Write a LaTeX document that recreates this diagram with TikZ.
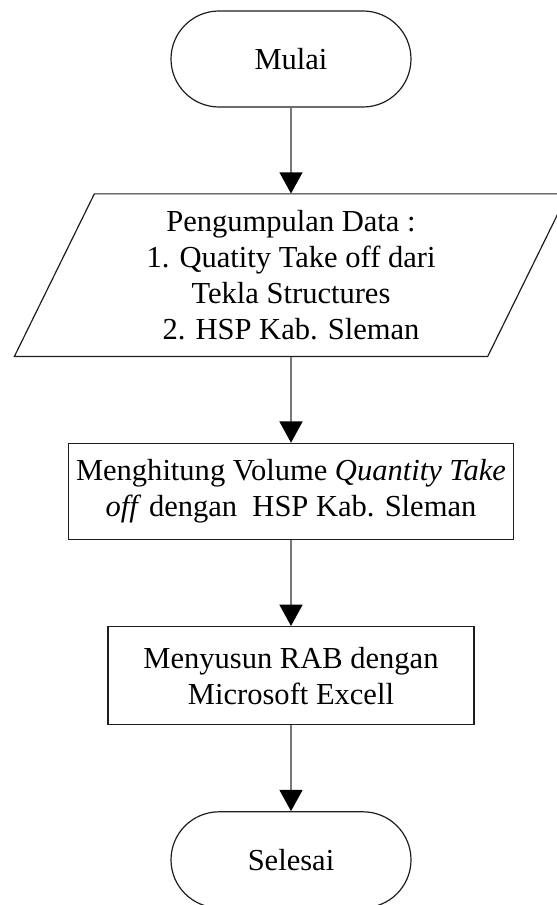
\documentclass[tikz,border=0pt]{standalone}
\usepackage{fontspec}
\setmainfont{Liberation Serif}
\usepackage{xcolor}
\definecolor{wire}{RGB}{120,120,120}
\definecolor{edge}{RGB}{30,30,30}
\usetikzlibrary{arrows.meta,positioning,calc}

\begin{document}
\begin{tikzpicture}[
  terminal/.style={rectangle,draw=edge,line width=0.9pt,rounded corners=36pt,
                   minimum width=180pt,minimum height=72pt},
  process/.style={rectangle,draw=edge,line width=0.9pt,
                  minimum height=72pt,inner xsep=2pt,align=center},
  flow/.style={draw=wire,line width=2pt,
               -{Triangle[width=17pt,length=16pt,color=black]}},
  font=\fontsize{22.9}{27}\selectfont,
  node distance=64.5pt,
]
  \useasboundingbox (0,0) rectangle (417pt,-678.75pt);

  \node[terminal](mulai) at (218.25pt,-44.25pt){Mulai};
  \node[below=of mulai,minimum height=122pt,align=center](data)
    {Pengumpulan Data :\\1. Quatity Take off dari\\Tekla Structures\\2. HSP Kab. Sleman};
  % input box, leaning to the right
  \draw[draw=edge,line width=0.9pt]
    ($(data.center)+(-147.5pt,61pt)$) -- ++(355pt,0)
    -- ($(data.center)+(147.5pt,-61pt)$) -- ++(-355pt,0) -- cycle;
  \node[process,below=of data,minimum width=334pt](volume)
    {Menghitung Volume \textit{Quantity Take}\\\textit{off} dengan\ \ HSP Kab. Sleman};
  \node[process,below=of volume,minimum width=274.5pt,minimum height=73.5pt](rab)
    {Menyusun RAB dengan\\Microsoft Excell};
  \node[terminal,below=of rab](selesai){Selesai};

  \draw[flow](mulai)--(data);
  \draw[flow](data)--(volume);
  \draw[flow](volume)--(rab);
  \draw[flow](rab)--(selesai);
\end{tikzpicture}
\end{document}
